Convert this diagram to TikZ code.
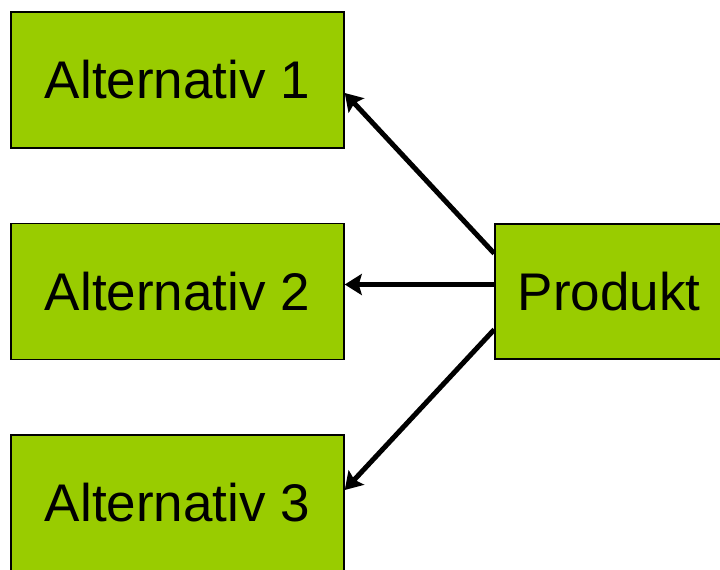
\documentclass[tikz,border=0pt]{standalone}
\usepackage{fontspec}
\setmainfont{Liberation Sans}
\usetikzlibrary{arrows.meta}
\definecolor{boxgreen}{HTML}{99CC00}
\begin{document}
\begin{tikzpicture}[x=1pt,y=-1pt,
  box/.style={draw=black, line width=1.5pt, fill=boxgreen, rectangle,
    minimum width=333pt, minimum height=136pt, inner sep=0pt,
    font=\fontsize{53}{60}\selectfont},
  link/.style={line width=5pt, -{Stealth[length=17pt,width=21pt,inset=3pt]}}]
\useasboundingbox (0,0) rectangle (720,570);
% alternatives on the left
\node[box] (a1) at (177.5,80) {Alternativ 1};
\node[box] (a2) at (177.5,291.5) {Alternativ 2};
\node[box] (a3) at (177.5,503) {Alternativ 3};
% product on the right
\node[box, minimum width=228pt, minimum height=135pt] (p) at (609,291.5) {Produkt};
% connectors
\draw[link] ([yshift=38pt]p.west) -- ([yshift=-13pt]a1.east);
\draw[link] ([yshift=7pt]p.west) -- ([yshift=7pt]a2.east);
\draw[link] ([yshift=-38pt]p.west) -- ([yshift=13pt]a3.east);
\end{tikzpicture}
\end{document}
